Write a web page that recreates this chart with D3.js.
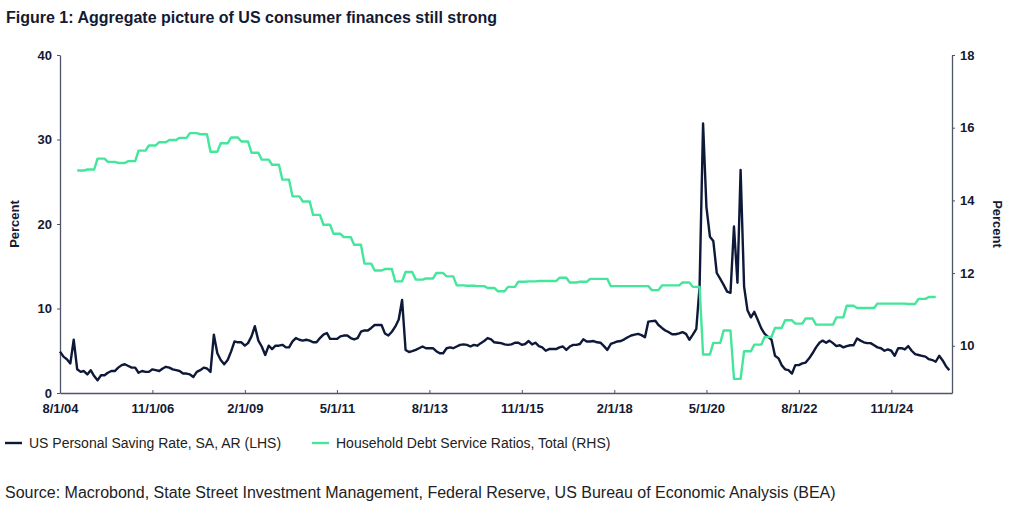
<!DOCTYPE html>
<html>
<head>
<meta charset="utf-8">
<script src="https://cdn.jsdelivr.net/npm/d3@7"></script>
<style>
  body { margin: 0; background: #fff; }
  svg { font-family: "Liberation Sans", Arial, sans-serif; }
</style>
</head>
<body>
<div id="chart"></div>
<script>
// monthly US personal saving rate, starting Aug 2004 (%)
var savingStart = "2004-08-01";
var savingRate = [
  4.9, 4.3, 4.0, 3.5, 6.3, 2.8, 2.5, 2.6, 2.2, 2.7,
  2.0, 1.5, 2.1, 2.1, 2.4, 2.6, 2.6, 3.0, 3.3, 3.4,
  3.2, 3.0, 3.0, 2.4, 2.6, 2.5, 2.5, 2.8, 2.7, 2.6,
  2.9, 3.1, 3.0, 2.8, 2.7, 2.6, 2.3, 2.3, 2.2, 1.9,
  2.5, 2.7, 3.0, 2.9, 2.5,
  6.9, 4.7, 3.9, 3.4, 3.9, 4.9, 6.1, 6.0, 6.0, 5.6,
  5.9, 6.7, 7.9, 6.2, 5.5, 4.5, 5.6, 5.2, 5.6, 5.6,
  5.7, 5.4, 5.4, 6.1, 6.5, 6.3, 6.2, 6.3, 6.2, 6.0,
  6.0, 6.5, 6.9, 7.1, 6.4, 6.4, 6.4, 6.7, 6.8,
  6.8, 6.5, 6.35, 6.5, 7.25, 7.4, 7.4, 7.7, 8.05, 8.05,
  8.05, 7.05, 6.8, 7.25, 7.85, 8.7, 11.0, 5.1, 4.85, 4.95,
  5.1, 5.3, 5.5, 5.3, 5.3, 5.3, 4.95, 4.7, 4.7, 5.3,
  5.4, 5.3, 5.5, 5.7, 5.75, 5.7, 5.5, 5.7, 5.6, 5.9,
  6.15, 6.5, 6.35, 6.0, 5.95, 5.9, 5.75, 5.7, 5.75, 5.95,
  5.95, 5.7, 5.8, 6.15, 5.75, 5.95, 5.55, 5.4, 5.0, 5.2,
  5.2, 5.2, 5.4, 5.5, 5.1, 5.5, 5.7, 5.7, 5.8, 6.35,
  6.1, 6.1, 6.15, 6.0, 5.95, 5.55, 5.1, 5.8, 5.95, 6.1,
  6.15, 6.35, 6.6, 6.8, 6.9, 7.0, 6.85, 6.6, 8.45, 8.5,
  8.55, 8.05, 7.7, 7.4, 7.2, 6.95, 6.95, 7.05, 7.2, 7.0,
  6.3, 6.9, 7.6, 12.6,
  31.9, 22.0, 18.5, 18.0, 14.2, 13.5, 12.8, 12.0, 11.85, 19.7,
  13.05, 26.4, 12.6, 9.8, 8.95, 9.6, 8.65, 7.65, 7.0, 6.65,
  6.3, 4.4, 4.1, 3.3, 2.8, 2.7, 2.3, 3.3, 3.3, 3.5,
  3.6, 4.1, 4.7, 5.4, 5.95, 6.2, 5.95, 6.2, 5.9, 5.55,
  5.65, 5.4, 5.55, 5.65, 5.65, 6.45, 6.2, 6.0, 5.9, 5.9,
  5.65, 5.4, 5.3, 5.0, 5.15, 5.0, 4.4, 5.3, 5.3, 5.15,
  5.55, 5.0, 4.6, 4.5, 4.4, 4.3, 4.0, 3.9, 3.7, 4.4,
  3.85, 3.2, 2.7
];

// quarterly household debt service ratio, starting Q1 2005 (%)
var dsrStart = "2005-01-01";
var debtService = [
  14.82, 14.85, 15.15, 15.06,
  15.03, 15.08, 15.37, 15.51,
  15.60, 15.66, 15.72, 15.85,
  15.82, 15.34, 15.57, 15.73,
  15.62, 15.31, 15.12, 14.98,
  14.57, 14.11, 13.97, 13.60,
  13.33, 13.08, 12.99, 12.78,
  12.26, 12.07, 12.11, 11.77,
  12.03, 11.82, 11.85, 12.00,
  11.91, 11.66, 11.65, 11.64,
  11.59, 11.50, 11.62, 11.76,
  11.77, 11.78, 11.78, 11.87,
  11.74, 11.76, 11.84, 11.84,
  11.64, 11.64, 11.64, 11.64,
  11.53, 11.66, 11.66, 11.74,
  11.62, 9.76, 10.08, 10.42,
  9.09, 9.85, 10.03, 10.24,
  10.49, 10.70, 10.61, 10.75,
  10.58, 10.58, 10.78, 11.10,
  11.04, 11.04, 11.16, 11.16,
  11.16, 11.15, 11.29, 11.34
];

var xTicks = ["2004-08-01", "2006-11-01", "2009-02-01", "2011-05-01", "2013-08-01",
              "2015-11-01", "2018-02-01", "2020-05-01", "2022-08-01", "2024-11-01"];
var leftTicks = [0, 10, 20, 30, 40];
var rightTicks = [10, 12, 14, 16, 18];

var seriesNames = ["US Personal Saving Rate, SA, AR (LHS)", "Household Debt Service Ratios, Total (RHS)"];
var navy = "#0e1839";
var mint = "#43e69b";
var ink = "#141a33";
var axisColor = "#4f5569";

var width = 1024, height = 512;
var plot = { left: 60, right: 952, top: 55, bottom: 393 };

var svg = d3.select("#chart").append("svg")
  .attr("width", width)
  .attr("height", height);

var parse = d3.timeParse("%Y-%m-%d");
var fmt = d3.timeFormat("%-m/%-d/%y");

var x = d3.scaleTime()
  .domain([parse("2004-08-01"), new Date(2026, 3, 25)])
  .range([plot.left, plot.right]);
var yL = d3.scaleLinear().domain([0, 40]).range([plot.bottom, plot.top]);
var yR = d3.scaleLinear().domain([8.7, 18]).range([plot.bottom, plot.top]);

// data -> points
var s0 = parse(savingStart);
var savingPts = savingRate.map(function (v, i) {
  return { date: d3.timeMonth.offset(s0, i), value: v };
});
var d0 = parse(dsrStart);
var dsrPts = [];
debtService.forEach(function (v, i) {
  var q = d3.timeMonth.offset(d0, i * 3);
  dsrPts.push({ date: q, value: v });
  dsrPts.push({ date: d3.timeMonth.offset(q, 2), value: v });
});

// title
svg.append("text")
  .attr("x", 6).attr("y", 23)
  .style("font-size", "16px").style("font-weight", "bold")
  .style("fill", ink)
  .text("Figure 1: Aggregate picture of US consumer finances still strong");

// axes
var bottomAxis = d3.axisBottom(x)
  .tickValues(xTicks.map(parse))
  .tickFormat(fmt)
  .tickSizeInner(-3).tickSizeOuter(0).tickPadding(11);
var leftAxis = d3.axisLeft(yL).tickValues(leftTicks).tickSizeInner(3).tickSizeOuter(0).tickPadding(5);
var rightAxis = d3.axisRight(yR).tickValues(rightTicks).tickSizeInner(3).tickSizeOuter(0).tickPadding(5);

function styleAxis(g) {
  g.select(".domain").attr("stroke", axisColor).attr("stroke-width", 1.3);
  g.selectAll(".tick line").attr("stroke", axisColor);
  g.selectAll(".tick text")
    .style("font-family", "'Liberation Sans', Arial, sans-serif")
    .style("font-size", "13px").style("font-weight", "bold")
    .attr("fill", ink);
}

svg.append("g").attr("transform", "translate(0," + plot.bottom + ")").call(bottomAxis).call(styleAxis);
svg.append("g").attr("transform", "translate(" + plot.left + ",0)").call(leftAxis).call(styleAxis);
svg.append("g").attr("transform", "translate(" + plot.right + ",0)").call(rightAxis).call(styleAxis);

// axis titles
svg.append("text")
  .attr("transform", "translate(19," + (plot.top + plot.bottom) / 2 + ") rotate(-90)")
  .attr("text-anchor", "middle")
  .style("font-size", "13px").style("font-weight", "bold").style("fill", ink)
  .text("Percent");
svg.append("text")
  .attr("transform", "translate(993," + (plot.top + plot.bottom) / 2 + ") rotate(90)")
  .attr("text-anchor", "middle")
  .style("font-size", "13px").style("font-weight", "bold").style("fill", ink)
  .text("Percent");

// lines
var lineL = d3.line().x(d => x(d.date)).y(d => yL(d.value));
var lineR = d3.line().x(d => x(d.date)).y(d => yR(d.value));

svg.append("path").datum(savingPts)
  .attr("d", lineL)
  .attr("fill", "none").attr("stroke", navy)
  .attr("stroke-width", 2.4).attr("stroke-linejoin", "round");

svg.append("path").datum(dsrPts)
  .attr("d", lineR)
  .attr("fill", "none").attr("stroke", mint)
  .attr("stroke-width", 2.4).attr("stroke-linejoin", "round");

// legend
var legend = svg.append("g").attr("transform", "translate(0,443)");
var legendItems = [
  { name: seriesNames[0], color: navy, x: 5 },
  { name: seriesNames[1], color: mint, x: 312 }
];
legendItems.forEach(function (it) {
  legend.append("line")
    .attr("x1", it.x).attr("x2", it.x + 17)
    .attr("y1", 0).attr("y2", 0)
    .attr("stroke", it.color).attr("stroke-width", 2.4);
  legend.append("text")
    .attr("x", it.x + 24).attr("y", 5)
    .style("font-size", "14px").style("fill", "#222")
    .text(it.name);
});

// source
svg.append("text")
  .attr("x", 5).attr("y", 498)
  .style("font-size", "16px").style("fill", "#222")
  .text("Source: Macrobond, State Street Investment Management, Federal Reserve, US Bureau of Economic Analysis (BEA)");
</script>
</body>
</html>
